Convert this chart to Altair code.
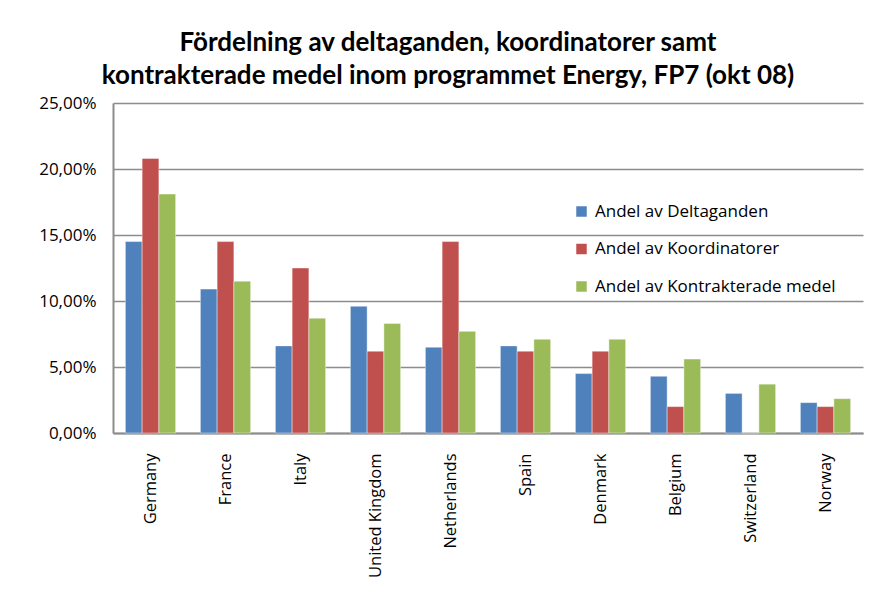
import altair as alt
import pandas as pd

countries = ["Germany", "France", "Italy", "United Kingdom", "Netherlands",
             "Spain", "Denmark", "Belgium", "Switzerland", "Norway"]
series_names = ["Andel av Deltaganden", "Andel av Koordinatorer", "Andel av Kontrakterade medel"]
deltaganden = [14.5, 10.9, 6.6, 9.6, 6.5, 6.6, 4.5, 4.3, 3.0, 2.3]
koordinatorer = [20.8, 14.5, 12.5, 6.2, 14.5, 6.2, 6.2, 2.0, 0.0, 2.0]
kontrakterade = [18.1, 11.5, 8.7, 8.3, 7.7, 7.1, 7.1, 5.6, 3.7, 2.6]
y_ticks = [0, 5, 10, 15, 20, 25]
colors = ["#4F81BD", "#C0504D", "#9BBB59"]

rows = []
for s, vals in zip(series_names, [deltaganden, koordinatorer, kontrakterade]):
    for c, v in zip(countries, vals):
        rows.append({"country": c, "serie": s, "value": v})
df = pd.DataFrame(rows)

FONT = "Open Sans"
TFONT = "Lato"

chart = alt.Chart(df).mark_bar(stroke="white", strokeWidth=0.6, strokeOpacity=0.7).encode(
    x=alt.X("country:N", sort=countries, title=None,
            scale=alt.Scale(paddingInner=0.33, paddingOuter=0.165),
            axis=alt.Axis(labelAngle=-90, labelAlign="right", labelBaseline="middle",
                          labelPadding=20, ticks=False, labelFontSize=16.5,
                          labelColor="black", domainColor="#8c8c8c", domainWidth=2,
                          labelFont=FONT, grid=False, labelLimit=0)),
    xOffset=alt.XOffset("serie:N", sort=series_names),
    y=alt.Y("value:Q", title=None,
            scale=alt.Scale(domain=[0, 25], nice=False),
            axis=alt.Axis(values=y_ticks,
                          labelExpr="replace(format(datum.value, '.2f'), '.', ',') + '%'",
                          ticks=False, labelPadding=17, labelFontSize=17,
                          labelColor="black", labelFont=FONT,
                          domainColor="#8c8c8c", domainWidth=2,
                          gridColor="#8c8c8c", gridWidth=1.5)),
    color=alt.Color("serie:N", sort=series_names,
                    scale=alt.Scale(domain=series_names, range=colors),
                    legend=alt.Legend(title=None, orient="none", legendX=460, legendY=100,
                                      symbolType="square", symbolSize=110,
                                      symbolStrokeWidth=0, labelLimit=0,
                                      labelFontSize=17, labelFont=FONT, labelColor="black",
                                      rowPadding=19.5, labelOffset=5)),
).properties(
    width=750,
    height=330,
    autosize=alt.AutoSizeParams(type="none"),
    padding={"left": 105, "top": 95, "right": 5, "bottom": 155},
    title=alt.TitleParams(
        text=["Fördelning av deltaganden, koordinatorer samt",
              "kontrakterade medel inom programmet Energy, FP7 (okt 08)"],
        font=TFONT, fontSize=26, fontWeight="bold", color="black",
        anchor="middle", dx=-40, offset=5, lineHeight=33,
    ),
).configure_view(stroke=None)

chart.save("out.html", embed_options={"renderer": "svg", "actions": False})
